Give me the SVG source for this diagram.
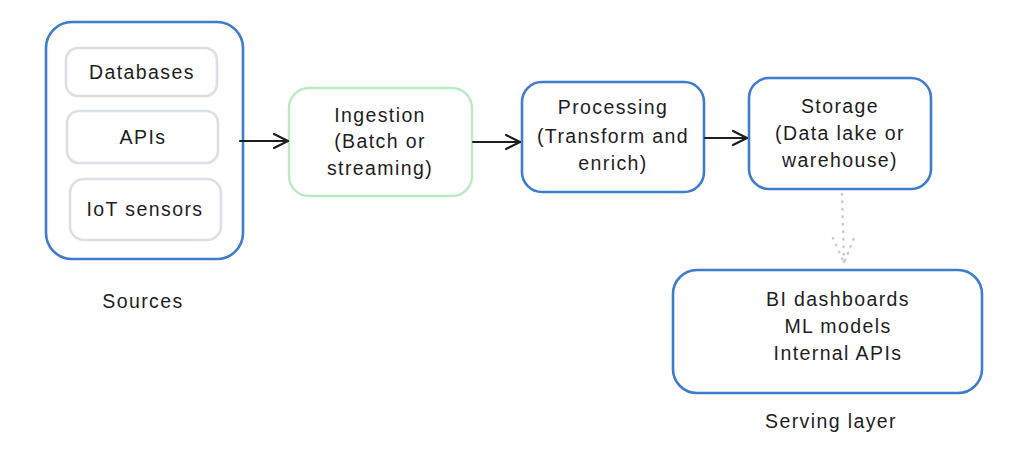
<svg xmlns="http://www.w3.org/2000/svg" width="1024" height="464" viewBox="0 0 1024 464">
<defs>
<style>
.box{fill:#fff;stroke:#3f7ccb;stroke-width:2.6}
.green{fill:#fff;stroke:#b9ecc0;stroke-width:2.4}
.inner{fill:#fff;stroke:#dcdfe3;stroke-width:2.6}
text{font-family:"Liberation Sans",Arial,sans-serif;font-size:19.5px;fill:#1e1e1e;text-anchor:middle;letter-spacing:1.4px}
.conn{fill:none;stroke:#1e1e1e;stroke-width:2.2;stroke-linecap:round}
.dot{fill:none;stroke:#c9cdd3;stroke-width:2.6;stroke-linecap:round;stroke-dasharray:0.5 7}
</style>
<marker id="arr" viewBox="0 0 18 18" refX="17" refY="9" markerWidth="18" markerHeight="18" markerUnits="userSpaceOnUse" orient="auto">
<path d="M3 2 L17 9 L3 16" fill="none" stroke="#1e1e1e" stroke-width="2.2" stroke-linecap="round" stroke-linejoin="round"/>
</marker>
</defs>
<rect width="1024" height="464" fill="#fff"/>
<g id="sources">
<rect class="box" x="46" y="22" width="197" height="237" rx="26"/>
<text x="143" y="308">Sources</text>
</g>
<g id="databases">
<rect class="inner" x="66" y="48" width="151" height="48" rx="12"/>
<text x="142" y="79">Databases</text>
</g>
<g id="apis">
<rect class="inner" x="67" y="111" width="151" height="52" rx="12"/>
<text x="143" y="144">APIs</text>
</g>
<g id="iot">
<rect class="inner" x="70" y="179" width="151" height="61" rx="14"/>
<text x="145" y="216">IoT sensors</text>
</g>
<g id="ingestion">
<rect class="green" x="289" y="88" width="183" height="108" rx="20"/>
<text x="380" y="122">Ingestion</text>
<text x="380" y="148">(Batch or</text>
<text x="380" y="175">streaming)</text>
</g>
<g id="processing">
<rect class="box" x="522" y="82" width="182" height="110" rx="20"/>
<text x="613" y="114">Processing</text>
<text x="613" y="143">(Transform and</text>
<text x="613" y="170">enrich)</text>
</g>
<g id="storage">
<rect class="box" x="749" y="78" width="182" height="111" rx="20"/>
<text x="840" y="113">Storage</text>
<text x="840" y="140">(Data lake or</text>
<text x="840" y="167">warehouse)</text>
</g>
<g id="serving">
<rect class="box" x="673" y="270" width="309" height="123" rx="24"/>
<text x="838" y="306">BI dashboards</text>
<text x="838" y="333">ML models</text>
<text x="838" y="360">Internal APIs</text>
<text x="831" y="428">Serving layer</text>
</g>
<g id="connectors">
<path class="conn" d="M240 141 L288 141" marker-end="url(#arr)"/>
<path class="conn" d="M473 142 L520 142" marker-end="url(#arr)"/>
<path class="conn" d="M705 138 L747 138" marker-end="url(#arr)"/>
<path class="dot" d="M842 194 L844 263"/>
<path class="dot" d="M833 238 L844 263 L854 238"/>
</g>
</svg>
